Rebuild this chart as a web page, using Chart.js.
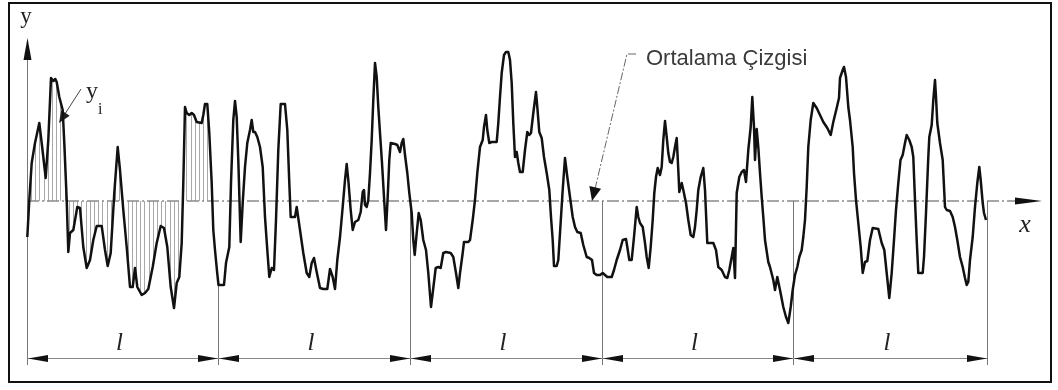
<!DOCTYPE html>
<html>
<head>
<meta charset="utf-8">
<script src="https://cdn.jsdelivr.net/npm/chart.js@4.4.1/dist/chart.umd.min.js"></script>
<style>
  body { margin: 0; background: #fff; }
  canvas { display: block; }
</style>
</head>
<body>
<canvas id="profileChart" width="1058" height="390"></canvas>
<script>
// Profile: x along the surface, y = height above the mean line
const profileX = [
  27.3, 29.3, 31.7, 35, 39.3, 41.7, 45.7, 48.3, 51, 53.3, 55.3, 56.7, 59.3, 62.7, 64.3, 66.7, 68.3, 70, 73.3, 77.3,
  80, 83.3, 86.7, 90, 93.3, 96.7, 101.7, 105, 107.7, 110.7, 114.3, 117.7, 120, 123.3, 126.7, 130, 132.7, 135, 137.3,
  141.7, 145, 148.3, 152.7, 156.7, 160.7, 164, 167.3, 170.7, 174,
  176.7, 179.3, 181.7, 183.3, 185, 186.7, 189.3, 191.7, 194, 196.7, 201.7, 203.3, 205, 207.3, 209.3, 211.7, 213.3,
  215, 217, 218.5, 224, 226, 229.3, 231, 233.3, 235, 236.7, 238.3, 240.7, 242.7, 245, 247.3, 250, 251.7, 253.3, 255,
  257.3, 260, 262.7, 265, 267.3, 269.3, 271.7, 274, 276, 278.3, 280.7, 285, 287.3, 289.3, 290.7, 295, 296.7, 300,
  303.3, 306.7, 309.3, 311.7, 314, 316.7, 320, 323.3, 327.3,
  330, 332.7, 335, 337.3, 340, 342.7, 345, 346.7, 348.3, 350.7, 352.7, 355, 358.3, 360.7, 362.7, 364, 365, 366.7,
  368.3, 370, 371.7, 373.3, 375, 376.7, 378.3, 380, 382, 384, 386, 387.7, 389.3, 390.7, 395, 397.3, 400, 401.7,
  403.3, 405, 407.3, 409.3, 411.7, 413.3, 414.7, 416.7, 418.7, 420.7, 423.3, 426, 428.3, 431, 433.3, 435.7, 438.3,
  440.7, 443.3, 446, 450.7, 453.3, 456, 458.3, 460, 462.7, 464, 468.3,
  470, 472.7, 475, 477.3, 480, 482.7, 484, 486, 487.3, 489.3, 491.7, 496.7, 498.3, 500, 501.7, 504, 506, 508.3,
  510, 511.7, 513.3, 515, 516.7, 518.3, 520, 522.7, 525, 527.3, 529.3, 531, 533.3, 536, 537.3, 539.3, 541.7, 544,
  546.7, 549.3, 551, 552.7, 554, 556.7, 558.3, 560, 562.7, 565, 567.3, 570, 572.7, 575, 577.3, 580.7, 583.3, 586.7,
  589.3, 592, 594, 596.7, 600, 602.7, 605, 607.3, 611.7, 614, 616.7,
  620, 622.7, 626, 627.3, 629.3, 631.7, 634, 636.7, 638.3, 640, 642.7, 645, 646.7, 648.7, 650.7, 652.7, 654.3, 656,
  657.7, 660, 661.7, 663.3, 665, 666.7, 668.3, 670, 671.7, 673.3, 675, 676.7, 678.3, 679.3, 681.7, 683.3, 686,
  688.3, 690.7, 693.3, 695, 696.7, 698.3, 700.7, 703.3, 705, 707.3, 713.3, 716, 718.3, 721.7, 725, 727.3, 729.3,
  731.7, 733.3, 735, 736.7, 739.3, 741.7, 744, 746, 748.3, 750.7, 752.3, 754, 755, 756.7, 758.3, 760, 761.7, 763.3,
  765, 768.3,
  770, 773.3, 775, 777.3, 780, 783.3, 786, 788.3, 790.7, 792.7, 795, 797.3, 799.3, 801.7, 803.3, 805, 806.7, 808.3,
  810.7, 813.3, 816.7, 820, 823.3, 827.3, 830.7, 833.3, 836.7, 839, 840, 842.7, 844, 846, 848.3, 850, 852.7, 854,
  856, 858.3, 860.7, 862.7, 865, 867.3, 870, 872.7, 878.3, 881.7, 884.3, 886.7, 889.3, 891.7, 894, 896, 898.3,
  900.5, 902.7, 905, 906.7, 909.3, 911.7, 913.3, 915, 916.7, 918.3, 922.7, 924, 926, 928.3, 929.3, 931.7, 933.3,
  935, 936, 937.3, 940, 942.7, 945, 946.7, 950, 952.7, 955, 957.3, 960, 962.7, 965, 966.7, 968.3, 970, 972.7, 975,
  977.3, 979.3, 980.7, 982.7, 984, 986
];
const profileY = [
  -36, 1, 38, 58, 78, 58, 23, 61, 123, 120, 122, 119, 104, 91, 58, 1, -51, -32, -29, -6,
  -7, -46, -67, -59, -39, -25, -25, -49, -65, -52, 8, 54, 31, -9, -46, -86, -86, -67, -86,
  -94, -92, -88, -66, -42, -25, -27, -46, -86, -107,
  -82, -76, -42, 18, 94, 88, 86, 88, 86, 79, 78, 86, 97, 97, 68, 18, -29,
  -49, -70, -84, -84, -62, -46, 18, 81, 100, 84, 41, -41, -2, 34, 58, 71, 81, 69, 69,
  64, 54, 34, -16, -49, -76, -67, -69, -19, 51, 97, 97, 71, 18, -16, -16, -6, -29,
  -52, -72, -76, -62, -57, -71, -87, -88, -88,
  -68, -76, -88, -59, -36, -6, 21, 37, 21, -9, -29, -21, -19, -11, 9, 11, -4, -6,
  1, 28, 61, 101, 138, 124, 94, 68, 38, 4, -29, 4, 41, 58, 57, 56, 49, 58,
  62, 46, 28, 8, -12, -39, -54, -32, -12, -19, -39, -49, -72, -106, -87, -67, -66,
  -67, -52, -51, -52, -56, -72, -87, -72, -52, -41, -41,
  -39, -19, 1, 28, 54, 61, 74, 86, 71, 58, 59, 59, 78, 104, 128, 146, 149, 149,
  141, 118, 78, 44, 49, 38, 29, 29, 51, 69, 66, 68, 88, 109, 94, 69, 63, 44,
  28, 11, -16, -39, -65, -65, -59, -32, 11, 43, 24, 4, -16, -26, -31, -32, -44, -56,
  -57, -59, -72, -74, -74, -72, -74, -76, -76, -69, -59,
  -49, -39, -38, -46, -59, -59, -36, -6, -16, -22, -26, -42, -56, -67, -46, -19, 8, 24,
  33, 26, 34, 61, 80, 64, 48, 39, 38, 44, 54, 63, 31, 9, 18, 11, -2,
  -19, -34, -36, -26, -9, 11, 24, 33, 11, -42, -42, -49, -66, -69, -76, -77, -69,
  -56, -47, -77, 8, 24, 29, 31, 19, 51, 74, 104, 74, 41, 72, 54, 28, 4, -16,
  -39, -61,
  -66, -79, -89, -76, -89, -106, -116, -122, -106, -89, -74, -66, -56, -49, -36, -19, 14, 54,
  81, 98, 93, 86, 79, 73, 66, 79, 93, 103, 123, 131, 134, 124, 94, 81, 54, 28,
  1, -22, -46, -72, -61, -60, -39, -27, -28, -42, -49, -72, -97, -72, -39, -9, 18,
  41, 46, 58, 66, 61, 54, 44, 1, -39, -72, -72, -56, -12, 44, 64, 76, 101,
  121, 104, 78, 58, 41, -6, -9, -10, -16, -26, -39, -56, -66, -77, -84, -81, -59, -36, -6,
  18, 34, 21, -2, -12, -19
];

// Sampling lengths l: divider positions and where each divider starts
const dividerX = [27, 218, 410, 602, 793, 987];
const dividerTop = [163, -84, 0, 0, 0, 0];
const segmentLabel = "l";

// Hatched ordinates y_i in the first sampling length
const hatchFrom = 31;
const hatchTo = 211;
const hatchStep = 4.2;

const meanLabel = "Ortalama Çizgisi";

function profileAt(v) {
  for (let i = 1; i < profileX.length; i++) {
    if (v <= profileX[i]) {
      const t = (v - profileX[i - 1]) / (profileX[i] - profileX[i - 1]);
      return profileY[i - 1] + t * (profileY[i] - profileY[i - 1]);
    }
  }
  return profileY[profileY.length - 1];
}

function arrowHead(ctx, tipX, tipY, fromX, fromY, len, halfW) {
  const dx = tipX - fromX, dy = tipY - fromY;
  const d = Math.hypot(dx, dy);
  const ux = dx / d, uy = dy / d;
  const bx = tipX - ux * len, by = tipY - uy * len;
  ctx.beginPath();
  ctx.moveTo(tipX, tipY);
  ctx.lineTo(bx - uy * halfW, by + ux * halfW);
  ctx.lineTo(bx + uy * halfW, by - ux * halfW);
  ctx.closePath();
  ctx.fill();
}

const decor = {
  id: "decor",
  beforeDatasetsDraw(chart) {
    const ctx = chart.ctx;
    const X = (v) => chart.scales.x.getPixelForValue(v);
    const Y = (v) => chart.scales.y.getPixelForValue(v);
    ctx.save();

    // frame
    ctx.strokeStyle = "#111";
    ctx.lineWidth = 2;
    ctx.strokeRect(9, 3, 1042, 379);

    // hatching
    ctx.strokeStyle = "#a8a8a8";
    ctx.lineWidth = 1;
    for (let hx = hatchFrom; hx <= hatchTo; hx += hatchStep) {
      const px = Math.round(X(hx)) + 0.5;
      ctx.beginPath();
      ctx.moveTo(px, Y(0));
      ctx.lineTo(px, Y(profileAt(hx)));
      ctx.stroke();
    }

    // mean line (dash-dot) with x arrow
    ctx.strokeStyle = "#8a8a8a";
    ctx.lineWidth = 1.5;
    ctx.setLineDash([12, 3, 2, 3]);
    ctx.beginPath();
    ctx.moveTo(X(27), Y(0));
    ctx.lineTo(X(1016), Y(0));
    ctx.stroke();
    ctx.setLineDash([]);
    ctx.fillStyle = "#111";
    arrowHead(ctx, X(1042), Y(0), X(1000), Y(0), 27, 3.5);

    // y axis and dividers
    ctx.strokeStyle = "#777";
    ctx.lineWidth = 1;
    dividerX.forEach((d, i) => {
      const px = Math.round(X(d)) + 0.5;
      ctx.beginPath();
      ctx.moveTo(px, Y(dividerTop[i]) + (i === 0 ? 12 : 0));
      ctx.lineTo(px, Y(-164));
      ctx.stroke();
    });
    arrowHead(ctx, X(27) + 0.5, Y(163), X(27) + 0.5, Y(100), 22, 4);

    // dimension line with arrows
    const dimY = Math.round(Y(-157)) + 0.5;
    ctx.strokeStyle = "#888";
    ctx.beginPath();
    ctx.moveTo(X(dividerX[0]), dimY);
    ctx.lineTo(X(dividerX[dividerX.length - 1]), dimY);
    ctx.stroke();
    for (let i = 0; i < dividerX.length - 1; i++) {
      const a = X(dividerX[i]) + 1, b = X(dividerX[i + 1]);
      arrowHead(ctx, a, dimY, a + 30, dimY, 20, 3.5);
      arrowHead(ctx, b, dimY, b - 30, dimY, 20, 3.5);
    }

    // labels l
    ctx.fillStyle = "#222";
    ctx.font = "italic 25px 'Liberation Serif'";
    ctx.textAlign = "center";
    ctx.textBaseline = "alphabetic";
    for (let i = 0; i < dividerX.length - 1; i++) {
      ctx.fillText(segmentLabel, X((dividerX[i] + dividerX[i + 1]) / 2) - 3, Y(-149));
    }

    // axis names
    ctx.font = "23px 'Liberation Serif'";
    ctx.fillText("y", X(26), Y(178));
    ctx.font = "italic 26px 'Liberation Serif'";
    ctx.fillText("x", X(1025), Y(-31));

    // y_i annotation
    ctx.font = "24px 'Liberation Serif'";
    ctx.textAlign = "left";
    ctx.fillText("y", X(86), Y(103));
    ctx.font = "16px 'Liberation Serif'";
    ctx.fillText("i", X(98), Y(87));
    ctx.strokeStyle = "#444";
    ctx.lineWidth = 1;
    ctx.beginPath();
    ctx.moveTo(X(81), Y(112));
    ctx.lineTo(X(63), Y(84));
    ctx.stroke();
    arrowHead(ctx, X(59), Y(78), X(81), Y(112), 12, 5);

    // mean line label with leader
    ctx.fillStyle = "#3a3a3a";
    ctx.font = "22px 'Liberation Sans'";
    ctx.fillText(meanLabel, X(646), Y(136));
    ctx.strokeStyle = "#666";
    ctx.setLineDash([8, 2, 2, 2]);
    ctx.beginPath();
    ctx.moveTo(X(636), Y(147));
    ctx.lineTo(X(627), Y(147));
    ctx.lineTo(X(595), Y(12));
    ctx.stroke();
    ctx.setLineDash([]);
    ctx.fillStyle = "#111";
    arrowHead(ctx, X(592), Y(0), X(627), Y(147), 14, 6);

    ctx.restore();
  }
};

const points = profileX.map((x, i) => ({ x: x, y: profileY[i] }));

new Chart(document.getElementById("profileChart").getContext("2d"), {
  type: "line",
  data: {
    datasets: [
      {
        data: points,
        borderColor: "#111",
        borderWidth: 2.5,
        borderJoinStyle: "round",
        pointRadius: 0,
        tension: 0,
        fill: false,
      },
    ],
  },
  options: {
    responsive: false,
    animation: false,
    events: [],
    layout: { padding: 0 },
    scales: {
      x: { type: "linear", min: 0, max: 1058, display: false },
      y: { min: -189, max: 201, display: false },
    },
    plugins: {
      legend: { display: false },
      tooltip: { enabled: false },
    },
  },
  plugins: [decor],
});
</script>
</body>
</html>
